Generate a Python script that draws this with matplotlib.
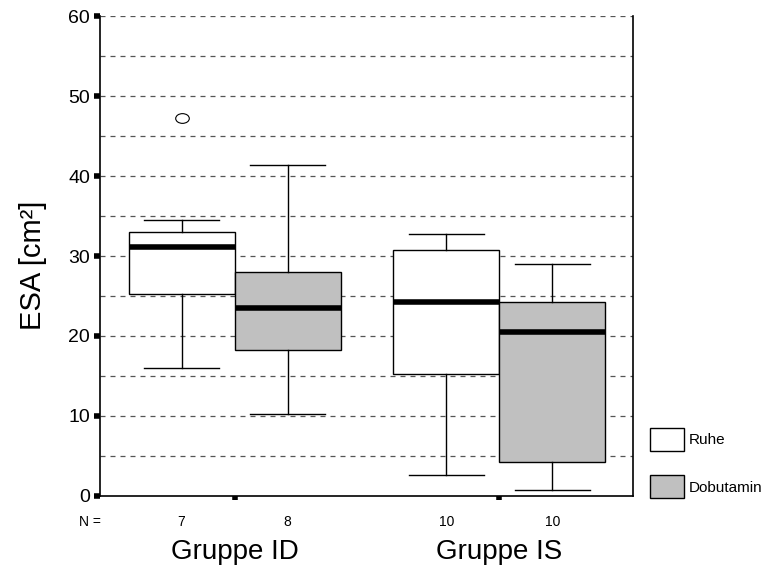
import matplotlib
matplotlib.use("Agg")
import matplotlib.pyplot as plt
from matplotlib.markers import MarkerStyle
from matplotlib.transforms import Affine2D
from matplotlib.patches import Patch

plt.rcParams['font.family'] = ['Liberation Sans', 'DejaVu Sans']

# box statistics (ESA in cm^2)
groups = ['Gruppe ID', 'Gruppe IS']
conditions = ['Ruhe', 'Dobutamin']
counts = [7, 8, 10, 10]
whislo = [16.0, 10.2, 2.6, 0.8]
q1 = [25.2, 18.2, 15.2, 4.2]
med = [31.1, 23.5, 24.3, 20.5]
q3 = [33.0, 28.0, 30.8, 24.2]
whishi = [34.5, 41.4, 32.8, 29.0]
fliers = [[47.2], [], [], []]

fill_colors = ['white', '#c0c0c0', 'white', '#c0c0c0']
positions = [1, 2, 3.5, 4.5]
group_pos = [1.5, 4.0]

stats = []
for i in range(len(counts)):
    stats.append(dict(whislo=whislo[i], q1=q1[i], med=med[i], q3=q3[i],
                      whishi=whishi[i], fliers=fliers[i]))

fig = plt.figure(figsize=(7.63, 5.66), dpi=100)
ax = fig.add_axes([0.131, 0.1237, 0.6986, 0.848])

# dashed reference lines every 5 units
for yv in range(5, 61, 5):
    ax.axhline(yv, color='#555555', lw=0.9, ls=(0, (4, 4)), zorder=0)

oval = MarkerStyle('o', transform=Affine2D().scale(1.4, 1.0))
bp = ax.bxp(stats, positions=positions, widths=1.0, patch_artist=True,
            showfliers=True,
            boxprops=dict(edgecolor='black', linewidth=1.0),
            medianprops=dict(color='black', linewidth=4.0, solid_capstyle='butt'),
            whiskerprops=dict(color='black', linewidth=1.0),
            capprops=dict(color='black', linewidth=1.0),
            capwidths=0.7,
            flierprops=dict(marker=oval, markersize=7, markerfacecolor='none',
                            markeredgecolor='black', markeredgewidth=0.8))
for patch, c in zip(bp['boxes'], fill_colors):
    patch.set_facecolor(c)

ax.set_xlim(0.23, 5.26)
ax.set_ylim(0, 60)
ax.set_yticks(range(0, 61, 10))
ax.set_xticks(group_pos)
ax.set_xticklabels([])
ax.tick_params(axis='y', length=4, width=4, direction='out', labelsize=14, pad=3)
ax.tick_params(axis='x', length=3, width=4, direction='out')
ax.spines['top'].set_visible(False)
for s in ['left', 'right', 'bottom']:
    ax.spines[s].set_linewidth(1.2)

ax.set_ylabel('ESA [cm²]', fontsize=21)
ax.yaxis.set_label_coords(-0.1, 0.48)

# case counts below the boxes
ax.text(-0.04, -0.055, 'N =', transform=ax.transAxes, ha='left', va='center', fontsize=10)
for p, n in zip(positions, counts):
    ax.text(p, -3.2, str(n), ha='center', va='center', fontsize=10)
for p, g in zip(group_pos, groups):
    ax.text(p, -7.0, g, ha='center', va='center', fontsize=20)

handles = [Patch(facecolor=c, edgecolor='black', linewidth=1.0)
           for c in ['white', '#c0c0c0']]
fig.legend(handles, conditions, loc='lower left', bbox_to_anchor=(0.84, 0.104),
           frameon=False, fontsize=11, handlelength=2.2, handleheight=1.9,
           labelspacing=1.6, handletextpad=0.3, borderpad=0.1)

fig.savefig('out.png', dpi=100)
